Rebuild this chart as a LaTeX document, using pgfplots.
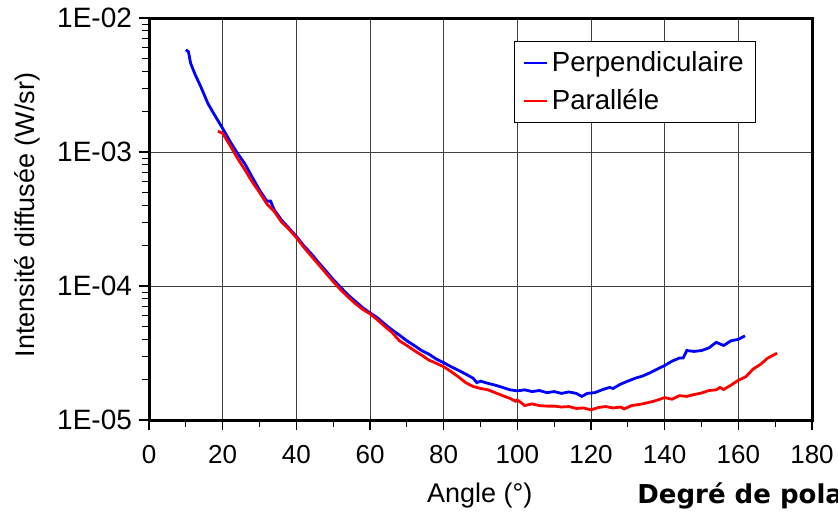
\documentclass[border=0pt]{standalone}
\usepackage{pgfplots}
\pgfplotsset{compat=1.18}
\usepackage{fontspec}
\setmainfont{Liberation Sans}
\newfontfamily\dejavu{DejaVu Sans}
\begin{document}
\begin{tikzpicture}
\begin{axis}[
  at={(0pt,0pt)}, anchor=south west,
  scale only axis, width=331.5pt, height=201pt,
  xmin=0, xmax=180, ymode=log, ymin=1e-5, ymax=1e-2,
  xtick={0,20,...,180}, minor xtick={10,30,...,170},
  ytick={1e-5,1e-4,1e-3,1e-2},
  yticklabels={1E-05,1E-04,1E-03,1E-02},
  minor ytick={2e-5,3e-5,4e-5,5e-5,6e-5,7e-5,8e-5,9e-5,2e-4,3e-4,4e-4,5e-4,6e-4,7e-4,8e-4,9e-4,2e-3,3e-3,4e-3,5e-3,6e-3,7e-3,8e-3,9e-3},
  xtick pos=bottom, ytick pos=left, tick align=outside,
  major tick length=5pt, minor tick length=3.5pt,
  tick style={black, line width=0.6pt},
  minor tick style={black, line width=0.5pt},
  xmajorgrids, ymajorgrids, grid style={black!75, line width=0.5pt},
  axis line style={line width=1.5pt},
  /pgf/number format/assume math mode=true,
  ticklabel style={font=\fontsize{13pt}{15pt}\selectfont},
  yticklabel style={font=\fontsize{14pt}{16pt}\selectfont},
  xticklabel style={yshift=-4pt},
  label style={font=\fontsize{13.5pt}{16pt}\selectfont},
  xlabel={Angle (°)}, ylabel={Intensité diffusée (W/sr)},
  xlabel style={at={(axis description cs:0.499,-0.1866)}, anchor=center},
  ylabel style={at={(axis description cs:-0.184,0.51)}, anchor=center},
  legend style={at={(rel axis cs:0.5505,0.943)}, anchor=north west, draw=black, line width=0.5pt,
    fill=white, font=\fontsize{13.8pt}{16pt}\selectfont, inner xsep=4pt, inner ysep=3pt, row sep=3.5pt},
  legend cell align=left,
  legend image code/.code={\draw[#1, line width=1.2pt] (0pt,0pt) -- (11.5pt,0pt);},
]
\addplot[blue, line width=1.4pt] coordinates {
(10,5.8e-3)(10.7,5.6e-3)(11.3,4.6e-3)(12.5,3.8e-3)(14,3.1e-3)(16,2.3e-3)(18,1.85e-3)(20,1.5e-3)
(22,1.2e-3)(24,0.98e-3)(26,0.82e-3)(28,0.65e-3)(30,0.52e-3)(32,0.43e-3)(33,0.43e-3)(34,0.37e-3)
(36,0.31e-3)(38,0.27e-3)(40,0.235e-3)(42,0.20e-3)(44,0.175e-3)(46,0.15e-3)(48,0.13e-3)(50,0.112e-3)
(52,0.098e-3)(54,0.086e-3)(56,0.077e-3)(58,0.069e-3)(60,0.063e-3)(62,0.058e-3)(64,0.052e-3)
(66,0.047e-3)(68,0.043e-3)(70,0.039e-3)(72,0.036e-3)(74,0.033e-3)(76,0.031e-3)(78,0.0285e-3)
(80,0.0268e-3)(82,0.025e-3)(84,0.0235e-3)(86,0.022e-3)(88,0.0205e-3)(89,0.019e-3)(90,0.0195e-3)
(92,0.0188e-3)(94,0.0182e-3)(96,0.0175e-3)(98,0.0168e-3)(100,0.0165e-3)(102,0.0168e-3)
(104,0.0163e-3)(106,0.0166e-3)(108,0.016e-3)(110,0.0163e-3)(112,0.0158e-3)(114,0.0162e-3)
(116,0.0158e-3)(117.5,0.0150e-3)(119,0.0158e-3)(121,0.016e-3)(123,0.0168e-3)(125,0.0175e-3)
(126,0.0172e-3)(128,0.0185e-3)(130,0.0195e-3)(132,0.0205e-3)(134,0.0213e-3)(136,0.0225e-3)
(138,0.024e-3)(140,0.0255e-3)(142,0.0275e-3)(144,0.029e-3)(145,0.029e-3)(146,0.033e-3)
(148,0.0325e-3)(150,0.033e-3)(152,0.0345e-3)(154,0.038e-3)(156,0.036e-3)(158,0.039e-3)
(160,0.040e-3)(161.8,0.0425e-3)
};
\addlegendentry{Perpendiculaire}
\addplot[red, line width=1.4pt] coordinates {
(18.7,1.43e-3)(20,1.38e-3)(22,1.12e-3)(24,0.9e-3)(26,0.74e-3)(28,0.6e-3)(30,0.50e-3)(32,0.41e-3)
(34,0.36e-3)(36,0.30e-3)(38,0.265e-3)(40,0.23e-3)(42,0.195e-3)(44,0.168e-3)(46,0.145e-3)
(48,0.125e-3)(50,0.108e-3)(52,0.094e-3)(54,0.083e-3)(56,0.074e-3)(58,0.067e-3)(60,0.062e-3)
(62,0.056e-3)(64,0.050e-3)(66,0.045e-3)(68,0.039e-3)(70,0.036e-3)(72,0.033e-3)(74,0.0305e-3)
(76,0.028e-3)(78,0.0265e-3)(80,0.025e-3)(82,0.023e-3)(84,0.021e-3)(86,0.019e-3)(88,0.0178e-3)
(90,0.0172e-3)(92,0.0168e-3)(94,0.016e-3)(96,0.0152e-3)(98,0.0145e-3)(99.5,0.0138e-3)
(100,0.0141e-3)(101,0.0135e-3)(102,0.0128e-3)(104,0.0132e-3)(106,0.0128e-3)(108,0.0127e-3)
(110,0.0127e-3)(112,0.0125e-3)(114,0.0126e-3)(116,0.0122e-3)(118,0.0123e-3)(120,0.0119e-3)
(122,0.0124e-3)(124,0.0126e-3)(126,0.0123e-3)(128,0.0125e-3)(129,0.0121e-3)(131,0.0128e-3)
(134,0.0132e-3)(137,0.0138e-3)(140,0.0147e-3)(142,0.0143e-3)(144,0.0152e-3)(146,0.015e-3)
(148,0.0155e-3)(150,0.0159e-3)(152,0.0166e-3)(154,0.0168e-3)(155,0.0175e-3)(156,0.0169e-3)
(158,0.0182e-3)(160,0.0198e-3)(162,0.021e-3)(164,0.024e-3)(166,0.026e-3)(168,0.029e-3)
(170.5,0.0315e-3)
};
\addlegendentry{Paralléle}
\end{axis}
\node[anchor=base west, inner sep=0pt, font=\dejavu\bfseries\fontsize{13pt}{15pt}\selectfont] at (244pt,-41.5pt) {Degré de polarisation};
\pgfresetboundingbox
\useasboundingbox (-74.5pt,-46.5pt) rectangle (344.5pt,210pt);
\end{tikzpicture}
\end{document}
